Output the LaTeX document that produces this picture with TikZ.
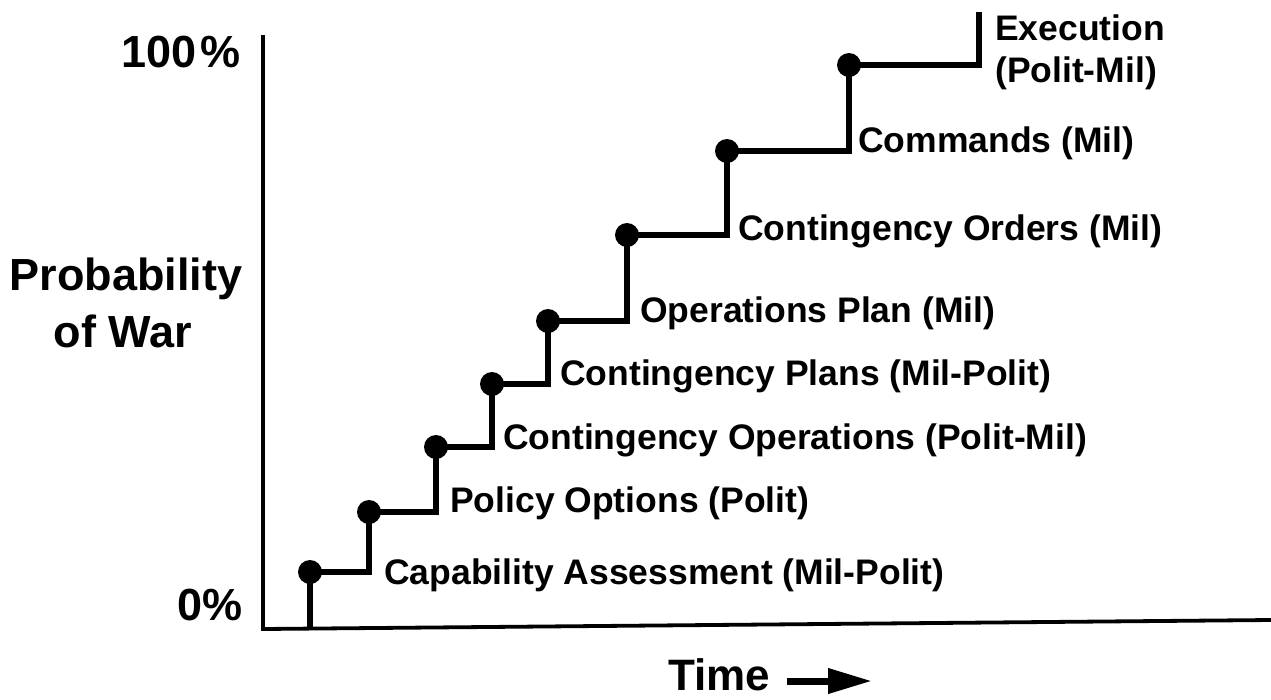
\documentclass[tikz,border=0pt]{standalone}
\usepackage{fontspec}
\setmainfont{Liberation Sans}
\usetikzlibrary{arrows.meta}
\begin{document}
\begin{tikzpicture}[x=1pt,y=-1pt,
  axisline/.style={line width=3.8pt, line join=miter},
  stair/.style={line width=5.8pt, line join=miter},
  dot/.style={circle, fill=black, inner sep=0pt, minimum size=24pt},
  lab/.style={font=\fontsize{35.5}{40}\selectfont\bfseries, anchor=base west, inner sep=0pt},
  big/.style={font=\fontsize{45}{50}\selectfont\bfseries, inner sep=0pt}]
\useasboundingbox (0,0) rectangle (1271,699);
% axes
\coordinate (atop) at (263,35);
\coordinate (aorig) at (263,629);
\coordinate (aend) at (1271,620);
\draw[axisline] (atop) -- (aorig) -- (aend);
% staircase
\coordinate (b0) at (310,628);
\node[dot] (d1) at (310,572) {};
\node[dot] (d2) at (369,512) {};
\node[dot] (d3) at (436,447) {};
\node[dot] (d4) at (492,384) {};
\node[dot] (d5) at (548,321) {};
\node[dot] (d6) at (627,235) {};
\node[dot] (d7) at (727,151) {};
\node[dot] (d8) at (849,65) {};
\coordinate (h1) at (369,572);
\coordinate (h2) at (436,512);
\coordinate (h3) at (492,447);
\coordinate (h4) at (548,384);
\coordinate (h5) at (627,321);
\coordinate (h6) at (727,235);
\coordinate (h7) at (849,151);
\coordinate (h8) at (979,65);
\coordinate (top) at (979,12);
\draw[stair] (b0) -- (d1.center) -- (h1) -- (d2.center) -- (h2) -- (d3.center) -- (h3) -- (d4.center) -- (h4) -- (d5.center) -- (h5) -- (d6.center) -- (h6) -- (d7.center) -- (h7) -- (d8.center) -- (h8) -- (top);
% step labels
\node[lab] (l1) at (384,584) {Capability Assessment (Mil-Polit)};
\node[lab] (l2) at (450,512) {Policy Options (Polit)};
\node[lab] (l3) at (503,449) {Contingency Operations (Polit-Mil)};
\node[lab] (l4) at (560,385) {Contingency Plans (Mil-Polit)};
\node[lab] (l5) at (640,322) {Operations Plan (Mil)};
\node[lab] (l6) at (738,240) {Contingency Orders (Mil)};
\node[lab] (l7) at (858,152) {Commands (Mil)};
\node[lab] (l8) at (995,40) {Execution};
\node[lab] (l9) at (995,82) {(Polit-Mil)};
% axis labels
\node[big, anchor=base east] (p100) at (241,67) {100\hspace{4pt}\%};
\node[big, anchor=base east] (p0) at (243,620) {0\%};
\node[big, anchor=base] (prob) at (126,290) {Probability};
\node[big, anchor=base] (war) at (123,347) {of War};
\node[big, anchor=base west, font=\fontsize{44}{50}\selectfont\bfseries] (time) at (668,690) {Time};
\coordinate (ta) at (787,681);
\coordinate (tb) at (872,681);
\draw[line width=7pt, -{Triangle[length=44pt,width=24pt]}] (ta) -- (tb);
\end{tikzpicture}
\end{document}
